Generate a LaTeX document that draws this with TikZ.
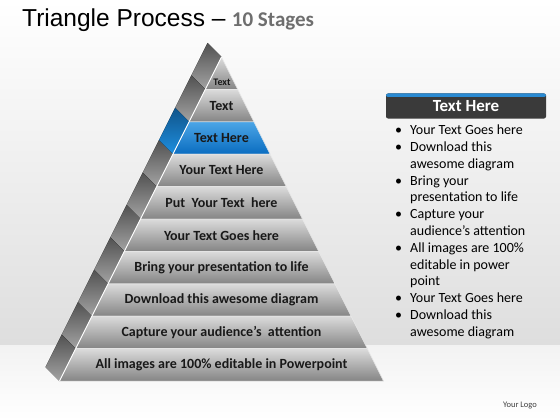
\documentclass[tikz,border=0pt]{standalone}
\usepackage{fontspec}
\setmainfont{Carlito}
\newfontfamily\titlefont{Liberation Sans}
\definecolor{hiblue}{HTML}{1E8FE0}
\definecolor{hiblueD}{HTML}{0A6CC0}
\definecolor{sideblue}{HTML}{1570B8}
\definecolor{hdrgray}{HTML}{3A3A3A}
\definecolor{hdrblue}{HTML}{2A8AD2}
\definecolor{subgray}{HTML}{6E6E6E}
\tikzset{
  band/.style={top color=black!14, middle color=black!27, bottom color=black!48, draw=black!8, line width=0.5pt},
  bandhi/.style={top color=hiblue!80!white, bottom color=hiblueD, draw=black!8, line width=0.5pt},
  side/.style={top color=black!68, bottom color=black!36},
  sidehi/.style={top color=sideblue!75!black, bottom color=hiblue},
  lbl/.style={font=\bfseries\fontsize{14}{16}\selectfont, text=black!90, inner sep=0pt},
  hdr/.style={fill=hdrgray, rounded corners=2pt, minimum width=160pt, minimum height=25pt,
    text=white, font=\bfseries\fontsize{17}{20}\selectfont,
    path picture={\fill[hdrblue] (path picture bounding box.north west) rectangle
      ([yshift=-3.5pt]path picture bounding box.north east);}},
}
\begin{document}
\begin{tikzpicture}[x=1pt,y=-1pt]
\useasboundingbox (0,0) rectangle (560,420);
% backdrop
\fill[top color=white, bottom color=black!13] (0,0) rectangle (560,345);
\fill[top color=black!5, bottom color=white] (0,345) rectangle (560,420);
% title
\node[anchor=base west, inner sep=0pt] (ttl) at (22,26.7) {\titlefont\fontsize{24.5}{28}\selectfont Triangle Process –};
\node[anchor=base west, inner sep=0pt, text=subgray, font=\bfseries\fontsize{21}{24}\selectfont] (sub) at ([xshift=6pt]ttl.base east) {10 Stages};
% pyramid bands, top to bottom
\foreach \i/\fr/\sd in {1/band/side, 2/band/side, 3/bandhi/sidehi, 4/band/side, 5/band/side,
    6/band/side, 7/band/side, 8/band/side, 9/band/side, 10/band/side}{
  \pgfmathsetmacro\yt{57+32.4*(\i-1)}
  \pgfmathsetmacro\yb{57+32.4*\i}
  \pgfmathsetmacro\lt{221.5-0.5*(\yt-57)}
  \pgfmathsetmacro\lb{221.5-0.5*(\yb-57)}
  \pgfmathsetmacro\rt{221.5+0.5*(\yt-57)}
  \pgfmathsetmacro\rb{221.5+0.5*(\yb-57)}
  \fill[\sd] (\lt,\yt) -- (\lb,\yb) -- (\lb-14,\yb-14) -- (\lt-14,\yt-14) -- cycle;
  \path[\fr] (\lt,\yt) -- (\lb,\yb) -- (\rb,\yb) -- (\rt,\yt) -- cycle;
}
\draw[white, line width=0.8pt] (221.5,57) -- (59.5,381);
% band labels
\node[lbl, font=\bfseries\fontsize{10}{12}\selectfont] (lb1) at (222,82) {Text};
\foreach \i/\txt in {2/Text, 3/Text Here, 4/Your Text Here, 5/Put\ \ Your Text\ \ here,
    6/Your Text Goes here, 7/Bring your presentation to life, 8/Download this awesome diagram,
    9/Capture your audience’s\ \ attention, 10/All images are 100\% editable in Powerpoint}{
  \node[lbl] (lb\i) at (221.5,{57+32.4*\i-16.2}) {\txt};
}
% side panel
\node[hdr] (hd) at (466,106) {Text Here};
\node[anchor=north west, inner sep=0pt, font=\fontsize{14}{16.8}\selectfont] (lst) at (395,122.7) {%
\begin{tabular}{@{}p{15pt}@{}l@{}}
\textbullet & Your Text Goes here\\
\textbullet & Download this\\
 & awesome diagram\\
\textbullet & Bring your\\
 & presentation to life\\
\textbullet & Capture your\\
 & audience’s attention\\
\textbullet & All images are 100\%\\
 & editable in power\\
 & point\\
\textbullet & Your Text Goes here\\
\textbullet & Download this\\
 & awesome diagram
\end{tabular}};
\node[font=\fontsize{8.5}{10}\selectfont, text=black!75] (logo) at (520,406) {Your Logo};
\end{tikzpicture}
\end{document}
